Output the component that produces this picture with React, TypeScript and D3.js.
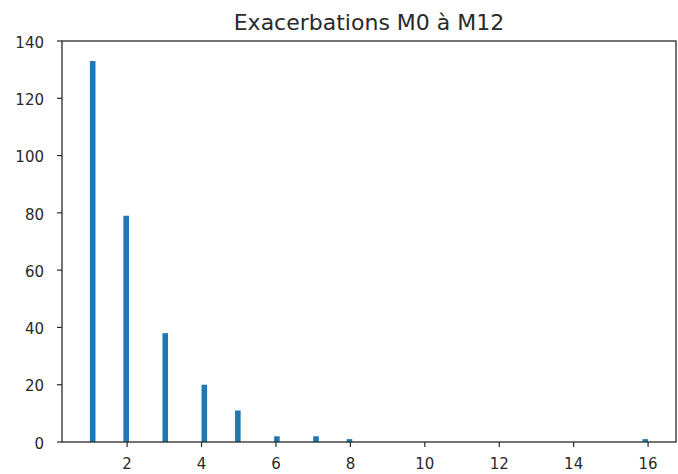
import React from 'react';
import * as d3 from 'd3';

// number of exacerbations (x) and how many patients had that many (count)
const exacerbations = [1, 2, 3, 4, 5, 6, 7, 8, 16];
const patients = [133, 79, 38, 20, 11, 2, 2, 1, 1];
const xTicks = [2, 4, 6, 8, 10, 12, 14, 16];
const yTicks = [0, 20, 40, 60, 80, 100, 120, 140];
const title = 'Exacerbations M0 à M12';

const width = 678;
const height = 474;
const margin = { top: 41, right: 2, bottom: 32, left: 62 };
const nBins = 100;

export default function App() {
  const lo = d3.min(exacerbations)!;
  const hi = d3.max(exacerbations)!;
  const pad = (hi - lo) * 0.05;

  const x = d3.scaleLinear()
    .domain([lo - pad, hi + pad])
    .range([margin.left, width - margin.right]);
  const y = d3.scaleLinear()
    .domain([0, 140])
    .range([height - margin.bottom, margin.top]);

  // histogram bins like matplotlib's hist(bins=100)
  const binW = (hi - lo) / nBins;
  const bars = exacerbations.map((v, i) => {
    const b = Math.min(Math.floor((v - lo) / binW + 1e-9), nBins - 1);
    return { x0: lo + b * binW, x1: lo + (b + 1) * binW, count: patients[i] };
  });

  const font = 'DejaVu Sans, sans-serif';
  const ink = '#2a2a2a';
  const x0 = margin.left, x1 = width - margin.right;
  const y0 = height - margin.bottom, y1 = margin.top;

  return (
    <svg width={width} height={height} style={{ position: 'absolute', left: 0, top: 0, background: '#fff' }}>
      <rect x={0} y={0} width={width} height={height} fill="#fff" />
      {bars.map((d, i) => (
        <rect key={i} x={x(d.x0)} width={x(d.x1) - x(d.x0)} y={y(d.count)} height={y(0) - y(d.count)} fill="#1f77b4" />
      ))}
      <rect x={x0} y={y1} width={x1 - x0} height={y0 - y1} fill="none" stroke={ink} strokeWidth={1.3} />
      {xTicks.map(t => (
        <g key={t} transform={`translate(${x(t)},${y0})`}>
          <line y2={5} stroke={ink} strokeWidth={1.2} />
          <text y={27} textAnchor="middle" fontFamily={font} fontSize={15} fill={ink}>{t}</text>
        </g>
      ))}
      {yTicks.map(t => (
        <g key={t} transform={`translate(${x0},${y(t)})`}>
          <line x2={-5} stroke={ink} strokeWidth={1.2} />
          <text x={-18} dy="0.45em" textAnchor="end" fontFamily={font} fontSize={15} fill={ink}>{t}</text>
        </g>
      ))}
      <text x={(x0 + x1) / 2} y={30} textAnchor="middle" fontFamily={font} fontSize={22} fill={ink}>{title}</text>
    </svg>
  );
}
